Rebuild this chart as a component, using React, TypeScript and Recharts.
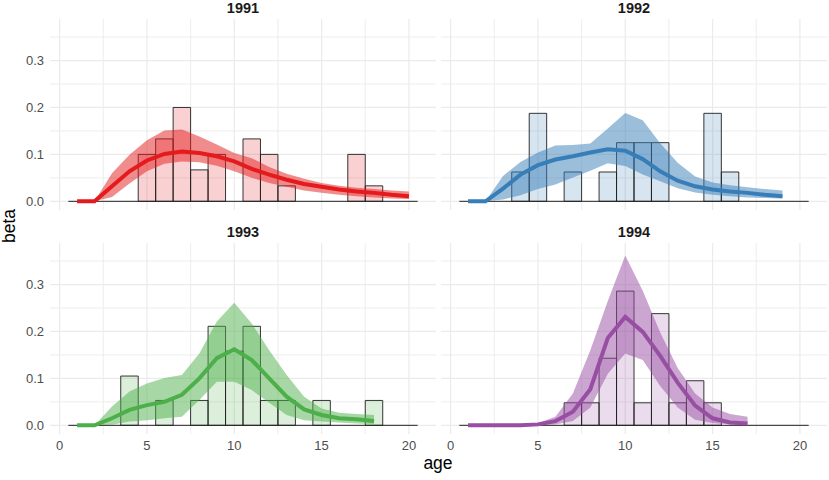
import React from "react";
import {
  ComposedChart,
  Line,
  Area,
  XAxis,
  YAxis,
  ReferenceLine,
  ReferenceArea,
} from "recharts";

const FONT = '"Liberation Sans", Arial, sans-serif';

// axes
const X_TICKS = [0, 5, 10, 15, 20];
const X_MINOR = [2.5, 7.5, 12.5, 17.5];
const Y_TICKS = [0, 0.1, 0.2, 0.3];
const Y_MINOR = [0.05, 0.15, 0.25, 0.35];

// 1991
const ages1991 = [1, 2, 3, 4, 5, 6, 7, 8, 9, 10, 11, 12, 13, 14, 15, 16, 17, 18, 19, 20];
const mean1991 = [0, 0, 0.032, 0.064, 0.087, 0.101, 0.106, 0.103, 0.096, 0.085, 0.069, 0.057, 0.046, 0.037, 0.031, 0.025, 0.021, 0.018, 0.014, 0.011];
const lo1991 = [0, 0, 0.009, 0.038, 0.064, 0.08, 0.085, 0.083, 0.076, 0.064, 0.05, 0.039, 0.031, 0.023, 0.018, 0.014, 0.011, 0.008, 0.006, 0.005];
const hi1991 = [0, 0, 0.06, 0.099, 0.13, 0.151, 0.153, 0.138, 0.121, 0.103, 0.092, 0.073, 0.059, 0.048, 0.039, 0.033, 0.029, 0.026, 0.023, 0.021];
const barAges1991 = [5, 6, 7, 8, 9, 11, 12, 13, 17, 18];
const barVals1991 = [0.1, 0.133, 0.2, 0.067, 0.1, 0.133, 0.1, 0.033, 0.1, 0.033];

// 1992
const ages1992 = [1, 2, 3, 4, 5, 6, 7, 8, 9, 10, 11, 12, 13, 14, 15, 16, 17, 18, 19];
const mean1992 = [0, 0, 0.027, 0.057, 0.077, 0.089, 0.096, 0.104, 0.111, 0.108, 0.09, 0.064, 0.044, 0.032, 0.025, 0.021, 0.018, 0.014, 0.011];
const lo1992 = [0, 0, 0.004, 0.013, 0.026, 0.036, 0.051, 0.065, 0.081, 0.075, 0.057, 0.043, 0.028, 0.019, 0.014, 0.011, 0.008, 0.007, 0.006];
const hi1992 = [0, 0, 0.054, 0.084, 0.104, 0.119, 0.12, 0.123, 0.155, 0.188, 0.173, 0.124, 0.082, 0.053, 0.04, 0.034, 0.03, 0.026, 0.023];
const barAges1992 = [4, 5, 7, 9, 10, 11, 12, 15, 16];
const barVals1992 = [0.0625, 0.1875, 0.0625, 0.0625, 0.125, 0.125, 0.125, 0.1875, 0.0625];

// 1993
const ages1993 = [1, 2, 3, 4, 5, 6, 7, 8, 9, 10, 11, 12, 13, 14, 15, 16, 17, 18];
const mean1993 = [0, 0, 0.015, 0.033, 0.043, 0.05, 0.065, 0.1, 0.143, 0.162, 0.139, 0.1, 0.061, 0.034, 0.022, 0.015, 0.013, 0.009];
const lo1993 = [0, 0, 0.001, 0.008, 0.011, 0.015, 0.018, 0.054, 0.093, 0.093, 0.075, 0.048, 0.022, 0.011, 0.008, 0.006, 0.004, 0.003];
const hi1993 = [0, 0, 0.04, 0.072, 0.089, 0.101, 0.107, 0.153, 0.221, 0.261, 0.217, 0.16, 0.107, 0.061, 0.036, 0.027, 0.024, 0.022];
const barAges1993 = [4, 6, 8, 9, 10, 11, 12, 13, 15, 18];
const barVals1993 = [0.105, 0.053, 0.053, 0.211, 0.158, 0.211, 0.053, 0.053, 0.053, 0.053];

// 1994
const ages1994 = [1, 2, 3, 4, 5, 6, 7, 8, 9, 10, 11, 12, 13, 14, 15, 16, 17];
const mean1994 = [0, 0, 0, 0, 0.002, 0.009, 0.029, 0.077, 0.186, 0.231, 0.199, 0.148, 0.091, 0.042, 0.015, 0.006, 0.004];
const lo1994 = [0, 0, 0, 0, 0, 0.002, 0.009, 0.038, 0.11, 0.153, 0.139, 0.084, 0.038, 0.012, 0.005, 0.002, 0.001];
const hi1994 = [0, 0, 0, 0, 0.005, 0.018, 0.068, 0.16, 0.265, 0.362, 0.287, 0.198, 0.122, 0.068, 0.038, 0.024, 0.018];
const barAges1994 = [7, 8, 9, 10, 11, 12, 13, 14, 15];
const barVals1994 = [0.048, 0.048, 0.143, 0.286, 0.048, 0.238, 0.048, 0.095, 0.048];

const PLOT_W = 386;
const PLOT_H = 191;
const YAXIS_W = 50;
const XAXIS_H = 30;

const tickStyle = { fill: "#4d4d4d", fontSize: 13, fontFamily: FONT };

function Panel({ year, color, ages, mean, lo, hi, barAges, barVals, left, top, showX, showY }: any) {
  const data = ages.map((age: number, i: number) => ({
    age,
    mean: mean[i],
    band: [lo[i], hi[i]],
  }));
  const w = PLOT_W + (showY ? YAXIS_W : 0);
  const h = PLOT_H + (showX ? XAXIS_H : 0);

  return (
    <div style={{ position: "absolute", left: left - (showY ? YAXIS_W : 0), top, width: w, height: h }}>
      <ComposedChart width={w} height={h} data={data} margin={{ top: 0, right: 0, bottom: 0, left: 0 }}>
        <XAxis
          type="number"
          dataKey="age"
          domain={[-0.55, 21.55]}
          ticks={X_TICKS}
          interval={0}
          allowDataOverflow
          hide={!showX}
          height={XAXIS_H}
          axisLine={false}
          tickLine={false}
          tickSize={0}
          tickMargin={7}
          tick={tickStyle}
        />
        <YAxis
          type="number"
          domain={[-0.0185, 0.3885]}
          ticks={Y_TICKS}
          interval={0}
          allowDataOverflow
          hide={!showY}
          width={YAXIS_W}
          axisLine={false}
          tickLine={false}
          tickSize={0}
          tickMargin={6}
          tickFormatter={(v: number) => v.toFixed(1)}
          tick={tickStyle}
        />

        {X_MINOR.map((v) => (
          <ReferenceLine key={"xm" + v} x={v} stroke="#ebebeb" strokeWidth={0.9} zIndex={-100} />
        ))}
        {Y_MINOR.map((v) => (
          <ReferenceLine key={"ym" + v} y={v} stroke="#ebebeb" strokeWidth={0.9} zIndex={-100} />
        ))}
        {X_TICKS.map((v) => (
          <ReferenceLine key={"x" + v} x={v} stroke="#ebebeb" strokeWidth={1.2} zIndex={-100} />
        ))}
        {Y_TICKS.map((v) => (
          <ReferenceLine key={"y" + v} y={v} stroke="#ebebeb" strokeWidth={1.2} zIndex={-100} />
        ))}

        {barAges.map((a: number, i: number) => (
          <ReferenceArea
            key={"b" + a}
            x1={a - 0.5}
            x2={a + 0.5}
            y1={0}
            y2={barVals[i]}
            fill={color}
            fillOpacity={0.2}
            stroke="#1f1f1f"
            strokeOpacity={1}
            strokeWidth={0.9}
            zIndex={-60}
          />
        ))}

        <ReferenceLine
          segment={[{ x: 0.5, y: 0 }, { x: 20.5, y: 0 }]}
          stroke="#222"
          strokeWidth={1}
          zIndex={-40}
        />

        <Area
          type="linear"
          dataKey="band"
          stroke="none"
          fill={color}
          fillOpacity={0.5}
          activeDot={false}
          isAnimationActive={false}
        />
        <Line
          type="linear"
          dataKey="mean"
          stroke={color}
          strokeWidth={4}
          dot={false}
          activeDot={false}
          isAnimationActive={false}
        />
      </ComposedChart>
    </div>
  );
}

export default function App() {
  return (
    <div
      style={{
        position: "absolute",
        left: 0,
        top: 0,
        width: 829,
        height: 480,
        background: "#fff",
        overflow: "hidden",
        fontFamily: FONT,
      }}
    >
      <Panel year="1991" color="#E41A1C" ages={ages1991} mean={mean1991} lo={lo1991} hi={hi1991}
        barAges={barAges1991} barVals={barVals1991} left={50} top={19} showY showX={false} />
      <Panel year="1992" color="#377EB8" ages={ages1992} mean={mean1992} lo={lo1992} hi={hi1992}
        barAges={barAges1992} barVals={barVals1992} left={441} top={19} showY={false} showX={false} />
      <Panel year="1993" color="#4DAF4A" ages={ages1993} mean={mean1993} lo={lo1993} hi={hi1993}
        barAges={barAges1993} barVals={barVals1993} left={50} top={243} showY showX />
      <Panel year="1994" color="#984EA3" ages={ages1994} mean={mean1994} lo={lo1994} hi={hi1994}
        barAges={barAges1994} barVals={barVals1994} left={441} top={243} showY={false} showX />

      <svg
        width={829}
        height={480}
        style={{ position: "absolute", left: 0, top: 0, pointerEvents: "none" }}
      >
        <g fontFamily={FONT} fontWeight="bold" fontSize={14.5} fill="#1a1a1a" textAnchor="middle">
          <text x={243} y={13}>1991</text>
          <text x={634} y={13}>1992</text>
          <text x={243} y={236.5}>1993</text>
          <text x={634} y={236.5}>1994</text>
        </g>
        <text x={438} y={469} fontFamily={FONT} fontSize={17.5} fill="#000" textAnchor="middle">
          age
        </text>
        <text
          x={15}
          y={226}
          fontFamily={FONT}
          fontSize={17.5}
          fill="#000"
          textAnchor="middle"
          transform="rotate(-90 15 226)"
        >
          beta
        </text>
      </svg>
    </div>
  );
}
